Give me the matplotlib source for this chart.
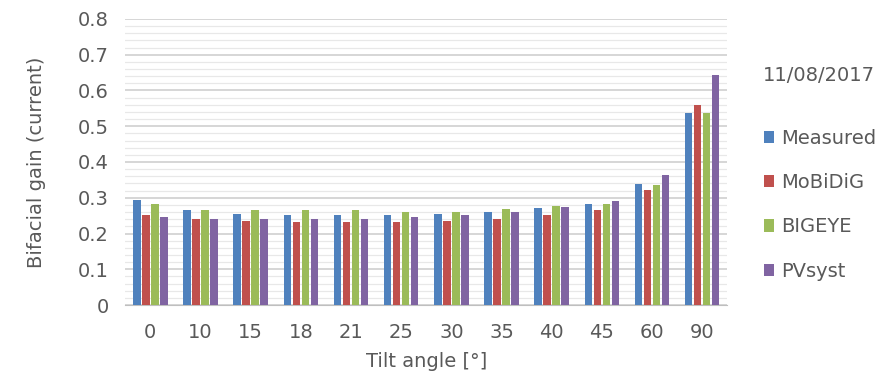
import numpy as np
import matplotlib
matplotlib.use('Agg')
import matplotlib.pyplot as plt
from matplotlib.ticker import MultipleLocator

# 数据
tilt = ['0', '10', '15', '18', '21', '25', '30', '35', '40', '45', '60', '90']
measured = [0.294, 0.266, 0.255, 0.252, 0.252, 0.252, 0.255, 0.261, 0.271, 0.283, 0.338, 0.537]
mobidig = [0.252, 0.240, 0.235, 0.232, 0.232, 0.232, 0.235, 0.241, 0.252, 0.266, 0.322, 0.559]
bigeye = [0.282, 0.266, 0.266, 0.266, 0.266, 0.261, 0.261, 0.268, 0.277, 0.283, 0.336, 0.537]
pvsyst = [0.246, 0.240, 0.240, 0.240, 0.241, 0.246, 0.252, 0.261, 0.274, 0.291, 0.364, 0.643]
labels = ['Measured', 'MoBiDiG', 'BIGEYE', 'PVsyst']
colors = ['#4F81BD', '#C0504D', '#9BBB59', '#8064A2']

fs = 14
plt.rc('font', family='DejaVu Sans', size=fs)
text_c = '#595959'

fig = plt.figure(figsize=(8.88, 3.78), dpi=100)
ax = fig.add_axes([0.141, 0.193, 0.678, 0.757])

x = np.arange(len(tilt))
pitch = 0.18
width = 0.15
series = [measured, mobidig, bigeye, pvsyst]
for i, (vals, lab, c) in enumerate(zip(series, labels, colors)):
    ax.bar(x + (i - 1.5) * pitch, vals, width, color=c, label=lab, zorder=3)

ax.set_xlim(-0.5, len(tilt) - 0.5)
ax.set_ylim(0, 0.8)
ax.yaxis.set_major_locator(MultipleLocator(0.1))
ax.yaxis.set_minor_locator(MultipleLocator(0.02))
ax.set_yticks(np.arange(0, 0.81, 0.1))
ax.set_yticklabels(['0'] + ['%.1f' % v for v in np.arange(0.1, 0.81, 0.1)])
ax.set_xticks(x)
ax.set_xticklabels(tilt)

ax.grid(axis='y', which='major', color='#d0d0d0', linewidth=1.2, zorder=0)
ax.grid(axis='y', which='minor', color='#e8e8e8', linewidth=0.9, zorder=0)
for s in ['top', 'right', 'left']:
    ax.spines[s].set_visible(False)
ax.spines['bottom'].set_color('#bfbfbf')
ax.tick_params(axis='both', which='both', length=0, colors=text_c, labelsize=fs)
ax.tick_params(axis='y', pad=12)
ax.tick_params(axis='x', pad=13)

ax.set_xlabel('Tilt angle [°]', color=text_c, fontsize=fs, labelpad=7)
ax.set_ylabel('Bifacial gain (current)', color=text_c, fontsize=fs, labelpad=23)

fig.text(0.859, 0.80, '11/08/2017', color=text_c, fontsize=fs, va='center')

leg = ax.legend(loc='upper left', bbox_to_anchor=(0.852, 0.68), bbox_transform=fig.transFigure,
                frameon=False, handlelength=0.5, handleheight=0.6, handletextpad=0.35,
                labelspacing=1.3, fontsize=fs, borderaxespad=0)
for t in leg.get_texts():
    t.set_color(text_c)

plt.savefig('out.png', dpi=100)
